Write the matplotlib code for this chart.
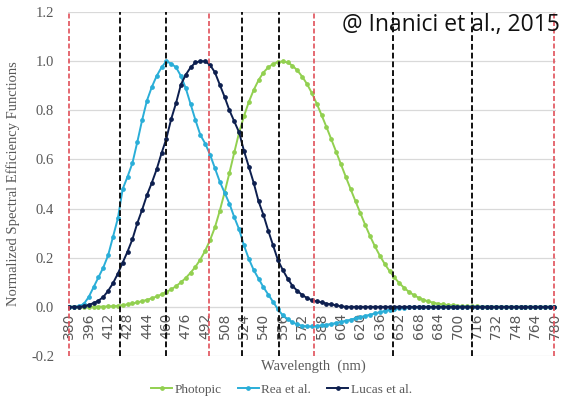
import numpy as np
import matplotlib
matplotlib.use("Agg")
import matplotlib.pyplot as plt

# wavelength samples (nm), every 4 nm
wl = np.arange(380, 781, 4)

photopic = [0.0000, 0.0001, 0.0001, 0.0002, 0.0003, 0.0004, 0.0006, 0.0010, 0.0016, 0.0025,
            0.0040, 0.0066, 0.0099, 0.0138, 0.0178, 0.0230, 0.0284, 0.0348, 0.0420, 0.0504,
            0.0600, 0.0711, 0.0842, 0.0997, 0.1174, 0.1390, 0.1632, 0.1925, 0.2283, 0.2715,
            0.3230, 0.3904, 0.4653, 0.5451, 0.6286, 0.7100, 0.7766, 0.8344, 0.8829, 0.9227,
            0.9540, 0.9750, 0.9891, 0.9970, 0.9990, 0.9950, 0.9819, 0.9626, 0.9374, 0.9071,
            0.8700, 0.8270, 0.7807, 0.7321, 0.6821, 0.6310, 0.5796, 0.5285, 0.4783, 0.4292,
            0.3810, 0.3330, 0.2874, 0.2458, 0.2084, 0.1750, 0.1456, 0.1194, 0.0968, 0.0775,
            0.0610, 0.0479, 0.0370, 0.0285, 0.0218, 0.0170, 0.0127, 0.0097, 0.0070, 0.0054,
            0.0041, 0.0031, 0.0024, 0.0018, 0.0013, 0.0010, 0.0008, 0.0006, 0.0004, 0.0003,
            0.0002, 0.0002, 0.0001, 0.0001, 0.0001, 0.0000, 0.0000, 0.0000, 0.0000, 0.0000,
            0.0000]

rea = [0.000, 0.000, 0.002, 0.012, 0.040, 0.080, 0.120, 0.160, 0.210, 0.285,
       0.360, 0.480, 0.530, 0.585, 0.670, 0.760, 0.840, 0.895, 0.940, 0.975,
       1.000, 0.990, 0.975, 0.940, 0.890, 0.825, 0.760, 0.700, 0.665, 0.620,
       0.565, 0.510, 0.465, 0.420, 0.365, 0.315, 0.250, 0.195, 0.150, 0.115,
       0.080, 0.050, 0.020, -0.010, -0.035, -0.050, -0.063, -0.072, -0.077, -0.080,
       -0.080, -0.078, -0.076, -0.073, -0.070, -0.066, -0.061, -0.057, -0.052, -0.047,
       -0.042, -0.037, -0.032, -0.027, -0.022, -0.017, -0.012, -0.008, -0.005, -0.003,
       -0.002, -0.001, -0.001, 0.000, 0.000, 0.000, 0.000, 0.000, 0.000, 0.000,
       0.000, 0.000, 0.000, 0.000, 0.000, 0.000, 0.000, 0.000, 0.000, 0.000,
       0.000, 0.000, 0.000, 0.000, 0.000, 0.000, 0.000, 0.000, 0.000, 0.000,
       0.000]

lucas = [0.000, 0.000, 0.000, 0.002, 0.008, 0.015, 0.025, 0.040, 0.065, 0.096,
         0.135, 0.180, 0.225, 0.275, 0.340, 0.395, 0.455, 0.505, 0.560, 0.625,
         0.685, 0.765, 0.830, 0.905, 0.945, 0.975, 0.995, 1.000, 1.000, 0.985,
         0.955, 0.905, 0.855, 0.800, 0.755, 0.710, 0.635, 0.570, 0.505, 0.430,
         0.375, 0.310, 0.250, 0.190, 0.150, 0.115, 0.085, 0.065, 0.048, 0.036,
         0.027, 0.022, 0.018, 0.013, 0.010, 0.006, 0.002, 0.000, 0.000, 0.000,
         0.000, 0.000, 0.000, 0.000, 0.000, 0.000, 0.000, 0.000, 0.000, 0.000,
         0.000, 0.000, 0.000, 0.000, 0.000, 0.000, 0.000, 0.000, 0.000, 0.000,
         0.000, 0.000, 0.000, 0.000, 0.000, 0.000, 0.000, 0.000, 0.000, 0.000,
         0.000, 0.000, 0.000, 0.000, 0.000, 0.000, 0.000, 0.000, 0.000, 0.000,
         0.000]

xtick_vals = np.arange(380, 781, 16)
ytick_vals = [-0.2, 0.0, 0.2, 0.4, 0.6, 0.8, 1.0, 1.2]

# band boundaries drawn over the chart
red_lines = [380, 495, 582, 780]
black_lines = [422, 460, 522, 553, 647, 712]

serif = "Liberation Serif"
gray = "#595959"

fig = plt.figure(figsize=(5.63, 4.04), dpi=100)
ax = fig.add_axes([0.121, 0.119, 0.866, 0.851])

ax.plot(wl, photopic, color="#92d050", lw=1.4, marker="o", ms=2.4, label="Photopic", zorder=3)
ax.plot(wl, rea, color="#2aaed8", lw=1.4, marker="o", ms=2.4, label="Rea et al.", zorder=4)
ax.plot(wl, lucas, color="#0d1f4f", lw=1.4, marker="o", ms=2.4, label="Lucas et al.", zorder=5)

for x in red_lines:
    ax.axvline(x, color="#e0505a", lw=1.2, ls=(0, (3, 1.5)), zorder=6)
for x in black_lines:
    ax.axvline(x, color="#111111", lw=1.4, ls=(0, (3, 1.5)), zorder=6)

ax.set_xlim(379, 781)
ax.set_ylim(-0.2, 1.2)
ax.set_yticks(ytick_vals)
ax.set_yticklabels(["%.1f" % v for v in ytick_vals], fontfamily=serif, fontsize=10.5)
ax.set_xticks(xtick_vals)
ax.set_xticklabels([str(v) for v in xtick_vals], fontfamily=serif, fontsize=8.5)
ax.tick_params(length=0, labelcolor=gray)
ax.tick_params(axis="x", labelrotation=90, pad=4)
ax.tick_params(axis="y", pad=10)

ax.grid(axis="y", color="#d9d9d9", lw=0.9, zorder=0)
for s in ["top", "right", "left"]:
    ax.spines[s].set_visible(False)
ax.spines["bottom"].set_position(("data", 0))
ax.spines["bottom"].set_color("#d9d9d9")

ax.set_ylabel("Normalized Spectral Efficiency Functions", fontfamily=serif, fontsize=10.5,
              color=gray, labelpad=8)
fig.text(0.556, 0.093, "Wavelength  (nm)", ha="center", va="center", fontfamily=serif,
         fontsize=10.5, color=gray)

leg = fig.legend(loc="center", bbox_to_anchor=(0.5, 0.035), ncol=3, frameon=False,
                 prop={"family": serif, "size": 9.5}, handlelength=1.6, handletextpad=0.2,
                 columnspacing=1.2)
for t in leg.get_texts():
    t.set_color(gray)

fig.text(0.995, 0.938, "@ Inanici et al., 2015", ha="right", va="center",
         fontfamily="Open Sans", fontsize=16.5, color="#111111", zorder=10)

fig.savefig("out.png", dpi=100)
